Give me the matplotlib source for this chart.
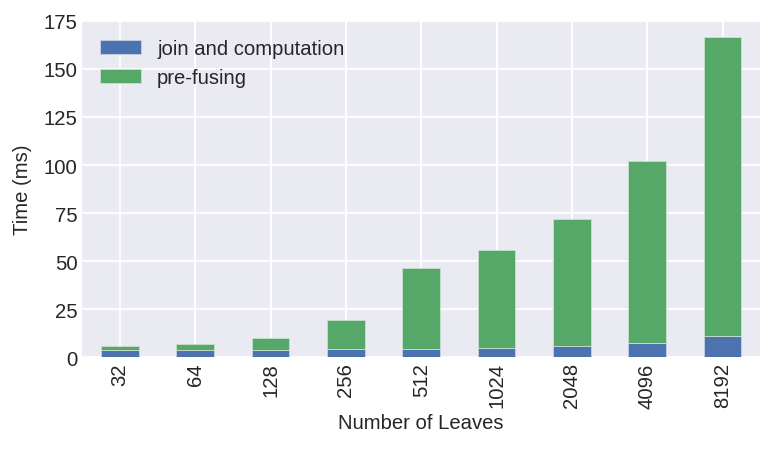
import matplotlib
matplotlib.use("Agg")
import matplotlib.pyplot as plt
import numpy as np

leaves = ["32", "64", "128", "256", "512", "1024", "2048", "4096", "8192"]
join_comp = [4.1, 4.0, 4.0, 4.3, 4.3, 4.8, 5.7, 7.6, 10.9]
totals = [5.7, 7.0, 10.2, 19.3, 46.7, 55.8, 71.7, 101.9, 166.4]
pre_fusing = [t - j for t, j in zip(totals, join_comp)]

plt.style.use("seaborn-v0_8-darkgrid")
plt.rcParams['font.family'] = ['Liberation Sans', 'DejaVu Sans']

fs = 14.6
fig = plt.figure(figsize=(7.75, 4.52), dpi=100)
ax = fig.add_axes([0.106, 0.207, 0.875, 0.745])

x = np.arange(len(leaves))
ax.bar(x, join_comp, width=0.5, color="#4C72B0", edgecolor="#c9d2e3", linewidth=0.6,
       label="join and computation")
ax.bar(x, pre_fusing, width=0.5, bottom=join_comp, color="#55A868", edgecolor="#c9e0cd",
       linewidth=0.6, label="pre-fusing")

ax.set_xlim(-0.5, len(leaves) - 0.5)
ax.set_ylim(0, 175)
ax.set_yticks(np.arange(0, 176, 25))
ax.set_xticks(x)
ax.set_xticklabels(leaves, rotation=90, fontsize=fs)
ax.tick_params(axis='y', labelsize=fs)
ax.set_xlabel("Number of Leaves", fontsize=fs)
ax.set_ylabel("Time (ms)", fontsize=fs, labelpad=8)
ax.grid(True, color="white", linewidth=1.3)
ax.set_axisbelow(True)
ax.legend(loc="upper left", fontsize=fs, frameon=False)

fig.savefig("out.png", dpi=100)
